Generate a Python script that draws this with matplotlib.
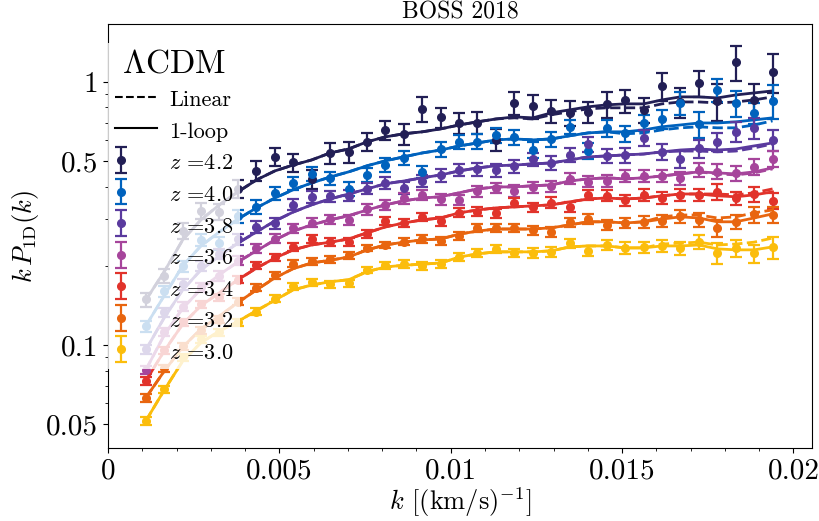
import matplotlib
matplotlib.use("Agg")
import numpy as np
import matplotlib.pyplot as plt
from matplotlib.lines import Line2D
from matplotlib.legend_handler import HandlerErrorbar
from matplotlib.ticker import NullFormatter, MultipleLocator, LogLocator

plt.rcParams['font.family'] = 'serif'
plt.rcParams['font.serif'] = ['cmr10']
plt.rcParams['mathtext.fontset'] = 'cm'
plt.rcParams['axes.unicode_minus'] = False
plt.rcParams['axes.formatter.use_mathtext'] = True

# wavenumbers of the BOSS 2018 bins [s/km]
k = [0.00110, 0.00164, 0.00218, 0.00271, 0.00325, 0.00379, 0.00433, 0.00487,
     0.00540, 0.00594, 0.00648, 0.00702, 0.00756, 0.00809, 0.00863, 0.00917,
     0.00971, 0.01025, 0.01078, 0.01132, 0.01186, 0.01240, 0.01294, 0.01347,
     0.01401, 0.01455, 0.01509, 0.01563, 0.01616, 0.01670, 0.01724, 0.01778,
     0.01832, 0.01885, 0.01939]

redshifts = ['4.2', '4.0', '3.8', '3.6', '3.4', '3.2', '3.0']
colors = ['#221f55', '#0062bd', '#5a3a9e', '#a6459b', '#e1332b', '#e8650f', '#fbbd0c']

# measured k P(k) and relative errors
data_42 = [0.149, 0.183, 0.271, 0.324, 0.320, 0.393, 0.460, 0.519, 0.494, 0.427, 0.538, 0.540,
           0.593, 0.655, 0.634, 0.792, 0.733, 0.698, 0.700, 0.604, 0.829, 0.809, 0.773, 0.765,
           0.768, 0.822, 0.850, 0.783, 0.965, 0.841, 0.989, 0.847, 1.188, 0.852, 1.095]
data_40 = [0.118, 0.160, 0.199, 0.251, 0.244, 0.309, 0.335, 0.377, 0.412, 0.448, 0.430, 0.392,
           0.443, 0.483, 0.516, 0.456, 0.554, 0.593, 0.593, 0.628, 0.615, 0.551, 0.607, 0.675,
           0.548, 0.667, 0.638, 0.700, 0.721, 0.829, 0.692, 0.932, 0.829, 0.760, 0.847]
data_38 = [0.0965, 0.133, 0.170, 0.200, 0.222, 0.252, 0.281, 0.290, 0.342, 0.366, 0.368, 0.370,
           0.393, 0.413, 0.396, 0.421, 0.441, 0.463, 0.465, 0.462, 0.477, 0.508, 0.493, 0.527,
           0.579, 0.524, 0.527, 0.611, 0.543, 0.508, 0.559, 0.593, 0.647, 0.669, 0.602]
data_36 = [0.0803, 0.112, 0.140, 0.166, 0.183, 0.209, 0.233, 0.254, 0.278, 0.292, 0.301, 0.299,
           0.328, 0.341, 0.361, 0.372, 0.358, 0.357, 0.384, 0.396, 0.386, 0.398, 0.401, 0.429,
           0.418, 0.421, 0.439, 0.439, 0.439, 0.430, 0.463, 0.456, 0.450, 0.476, 0.509]
data_34 = [0.0730, 0.0957, 0.122, 0.143, 0.152, 0.177, 0.201, 0.216, 0.236, 0.253, 0.246, 0.246,
           0.264, 0.296, 0.290, 0.306, 0.296, 0.318, 0.321, 0.317, 0.348, 0.334, 0.348, 0.335,
           0.372, 0.370, 0.355, 0.372, 0.363, 0.372, 0.372, 0.383, 0.361, 0.375, 0.353]
data_32 = [0.0630, 0.0817, 0.0990, 0.114, 0.125, 0.146, 0.165, 0.184, 0.204, 0.208, 0.212, 0.219,
           0.234, 0.240, 0.247, 0.254, 0.248, 0.259, 0.278, 0.278, 0.278, 0.273, 0.269, 0.293,
           0.301, 0.286, 0.291, 0.294, 0.296, 0.309, 0.299, 0.278, 0.294, 0.314, 0.312]
data_30 = [0.0516, 0.0678, 0.0899, 0.105, 0.112, 0.122, 0.134, 0.150, 0.167, 0.173, 0.170, 0.172,
           0.193, 0.201, 0.203, 0.200, 0.203, 0.217, 0.224, 0.231, 0.224, 0.224, 0.226, 0.244,
           0.228, 0.240, 0.234, 0.235, 0.238, 0.233, 0.247, 0.224, 0.233, 0.223, 0.235]

relerr_42 = [0.06, 0.06, 0.07, 0.07, 0.07, 0.08, 0.09, 0.08, 0.08, 0.08, 0.09, 0.09, 0.08, 0.085,
             0.095, 0.11, 0.09, 0.09, 0.095, 0.095, 0.10, 0.105, 0.10, 0.11, 0.095, 0.115, 0.10,
             0.105, 0.12, 0.13, 0.115, 0.16, 0.15, 0.15, 0.17]
relerr_40 = [0.05, 0.05, 0.05, 0.05, 0.055, 0.055, 0.06, 0.06, 0.06, 0.06, 0.06, 0.06, 0.06, 0.06,
             0.06, 0.055, 0.065, 0.06, 0.065, 0.065, 0.065, 0.07, 0.065, 0.065, 0.07, 0.075, 0.07,
             0.07, 0.08, 0.10, 0.115, 0.10, 0.115, 0.09, 0.145]
relerr_38 = [0.04, 0.04, 0.045, 0.045, 0.045, 0.045, 0.05, 0.05, 0.05, 0.05, 0.05, 0.05, 0.05, 0.05,
             0.05, 0.05, 0.055, 0.055, 0.055, 0.055, 0.055, 0.055, 0.06, 0.06, 0.065, 0.06, 0.065,
             0.07, 0.07, 0.075, 0.08, 0.08, 0.085, 0.09, 0.09]
relerr_36 = [0.035, 0.035, 0.04, 0.04, 0.04, 0.04, 0.04, 0.04, 0.04, 0.04, 0.04, 0.04, 0.045, 0.045,
             0.045, 0.045, 0.045, 0.045, 0.045, 0.045, 0.05, 0.05, 0.05, 0.05, 0.05, 0.05, 0.055,
             0.055, 0.055, 0.06, 0.06, 0.065, 0.065, 0.07, 0.07]
relerr_34 = [0.035, 0.03, 0.03, 0.03, 0.03, 0.03, 0.03, 0.03, 0.035, 0.035, 0.035, 0.035, 0.035,
             0.035, 0.035, 0.035, 0.04, 0.04, 0.04, 0.04, 0.04, 0.04, 0.045, 0.045, 0.045, 0.045,
             0.05, 0.05, 0.055, 0.055, 0.055, 0.07, 0.06, 0.065, 0.07]
relerr_32 = [0.035, 0.03, 0.03, 0.03, 0.03, 0.03, 0.03, 0.03, 0.03, 0.03, 0.03, 0.03, 0.03, 0.03,
             0.03, 0.035, 0.035, 0.035, 0.035, 0.035, 0.035, 0.04, 0.04, 0.04, 0.045, 0.045, 0.045,
             0.05, 0.05, 0.055, 0.06, 0.075, 0.065, 0.07, 0.07]
relerr_30 = [0.035, 0.03, 0.03, 0.03, 0.03, 0.03, 0.03, 0.03, 0.03, 0.03, 0.03, 0.03, 0.03, 0.03,
             0.035, 0.035, 0.035, 0.035, 0.035, 0.035, 0.035, 0.04, 0.04, 0.04, 0.045, 0.045, 0.05,
             0.05, 0.055, 0.06, 0.06, 0.09, 0.075, 0.08, 0.095]

# 1-loop model
loop_42 = [0.148, 0.190, 0.251, 0.299, 0.341, 0.382, 0.424, 0.459, 0.483, 0.505, 0.537, 0.556,
           0.592, 0.618, 0.635, 0.646, 0.663, 0.686, 0.705, 0.723, 0.736, 0.730, 0.763, 0.783,
           0.804, 0.818, 0.825, 0.825, 0.854, 0.877, 0.877, 0.869, 0.892, 0.908, 0.924]
loop_40 = [0.118, 0.154, 0.200, 0.238, 0.269, 0.301, 0.332, 0.362, 0.389, 0.413, 0.435, 0.455,
           0.480, 0.501, 0.519, 0.537, 0.551, 0.571, 0.586, 0.602, 0.607, 0.602, 0.607, 0.624,
           0.640, 0.646, 0.646, 0.657, 0.675, 0.686, 0.698, 0.698, 0.705, 0.717, 0.730]
loop_38 = [0.0957, 0.127, 0.162, 0.193, 0.218, 0.244, 0.269, 0.296, 0.320, 0.341, 0.359, 0.375,
           0.392, 0.410, 0.420, 0.432, 0.443, 0.459, 0.471, 0.480, 0.483, 0.488, 0.492, 0.505,
           0.519, 0.523, 0.528, 0.532, 0.542, 0.551, 0.556, 0.551, 0.556, 0.571, 0.586]
loop_36 = [0.0803, 0.109, 0.138, 0.163, 0.185, 0.207, 0.228, 0.251, 0.271, 0.286, 0.299, 0.310,
           0.326, 0.341, 0.353, 0.362, 0.366, 0.379, 0.392, 0.399, 0.399, 0.403, 0.406, 0.420,
           0.428, 0.432, 0.428, 0.432, 0.439, 0.447, 0.455, 0.451, 0.447, 0.455, 0.471]
loop_34 = [0.0730, 0.0949, 0.120, 0.141, 0.158, 0.177, 0.196, 0.214, 0.230, 0.240, 0.246, 0.253,
           0.267, 0.281, 0.291, 0.299, 0.304, 0.318, 0.326, 0.332, 0.335, 0.338, 0.341, 0.350,
           0.359, 0.362, 0.359, 0.362, 0.369, 0.375, 0.375, 0.369, 0.366, 0.372, 0.382]
loop_32 = [0.0629, 0.0796, 0.0983, 0.115, 0.129, 0.145, 0.162, 0.180, 0.195, 0.205, 0.210, 0.216,
           0.230, 0.240, 0.246, 0.251, 0.253, 0.264, 0.271, 0.276, 0.276, 0.276, 0.279, 0.286,
           0.294, 0.294, 0.291, 0.294, 0.301, 0.307, 0.304, 0.294, 0.294, 0.304, 0.315]
loop_30 = [0.0514, 0.0674, 0.0869, 0.102, 0.113, 0.123, 0.135, 0.148, 0.162, 0.169, 0.174, 0.177,
           0.190, 0.198, 0.201, 0.203, 0.205, 0.216, 0.222, 0.226, 0.226, 0.226, 0.228, 0.236,
           0.238, 0.238, 0.234, 0.234, 0.238, 0.238, 0.240, 0.232, 0.230, 0.230, 0.236]

# linear model
lin_42 = [0.148, 0.190, 0.251, 0.299, 0.341, 0.382, 0.424, 0.459, 0.483, 0.505, 0.537, 0.556,
          0.592, 0.618, 0.635, 0.646, 0.663, 0.686, 0.705, 0.723, 0.730, 0.723, 0.750, 0.770,
          0.790, 0.797, 0.797, 0.797, 0.825, 0.839, 0.839, 0.832, 0.839, 0.854, 0.877]
lin_40 = [0.118, 0.154, 0.200, 0.238, 0.269, 0.301, 0.332, 0.362, 0.389, 0.413, 0.435, 0.455,
          0.480, 0.501, 0.519, 0.537, 0.551, 0.571, 0.586, 0.602, 0.607, 0.602, 0.607, 0.624,
          0.640, 0.646, 0.635, 0.640, 0.657, 0.669, 0.675, 0.669, 0.669, 0.686, 0.711]
lin_38 = [0.0957, 0.127, 0.162, 0.193, 0.218, 0.244, 0.269, 0.296, 0.320, 0.341, 0.359, 0.375,
          0.392, 0.410, 0.420, 0.432, 0.443, 0.459, 0.471, 0.480, 0.483, 0.488, 0.492, 0.505,
          0.519, 0.523, 0.528, 0.532, 0.542, 0.546, 0.546, 0.542, 0.546, 0.561, 0.581]
lin_36 = [0.0803, 0.109, 0.138, 0.163, 0.185, 0.207, 0.228, 0.251, 0.271, 0.286, 0.299, 0.310,
          0.326, 0.341, 0.353, 0.362, 0.366, 0.379, 0.392, 0.399, 0.399, 0.403, 0.406, 0.420,
          0.428, 0.432, 0.428, 0.432, 0.439, 0.447, 0.455, 0.447, 0.443, 0.451, 0.467]
lin_34 = [0.0730, 0.0949, 0.120, 0.141, 0.158, 0.177, 0.196, 0.214, 0.230, 0.240, 0.246, 0.253,
          0.267, 0.281, 0.291, 0.299, 0.304, 0.318, 0.326, 0.332, 0.335, 0.338, 0.341, 0.350,
          0.359, 0.362, 0.359, 0.362, 0.369, 0.375, 0.375, 0.375, 0.372, 0.379, 0.392]
lin_32 = [0.0629, 0.0796, 0.0983, 0.115, 0.129, 0.145, 0.162, 0.180, 0.195, 0.205, 0.210, 0.216,
          0.230, 0.240, 0.246, 0.251, 0.253, 0.264, 0.271, 0.276, 0.276, 0.276, 0.279, 0.286,
          0.294, 0.294, 0.291, 0.294, 0.307, 0.312, 0.312, 0.304, 0.307, 0.318, 0.326]
lin_30 = [0.0514, 0.0674, 0.0869, 0.102, 0.113, 0.123, 0.135, 0.148, 0.162, 0.169, 0.174, 0.177,
          0.190, 0.198, 0.201, 0.203, 0.205, 0.216, 0.222, 0.226, 0.226, 0.226, 0.228, 0.236,
          0.238, 0.238, 0.234, 0.234, 0.242, 0.244, 0.246, 0.240, 0.242, 0.246, 0.255]

series = [
    (data_42, relerr_42, loop_42, lin_42),
    (data_40, relerr_40, loop_40, lin_40),
    (data_38, relerr_38, loop_38, lin_38),
    (data_36, relerr_36, loop_36, lin_36),
    (data_34, relerr_34, loop_34, lin_34),
    (data_32, relerr_32, loop_32, lin_32),
    (data_30, relerr_30, loop_30, lin_30),
]


class LeftErrorbar(HandlerErrorbar):
    """Errorbar legend handle drawn near the left end of the handle box."""
    def get_xdata(self, legend, xdescent, ydescent, width, height, fontsize):
        xdata, _ = super().get_xdata(legend, xdescent, ydescent, width, height, fontsize)
        return xdata, np.array([-xdescent + 0.14 * width])


fig = plt.figure(figsize=(8.2, 5.21), dpi=100)
ax = fig.add_axes([0.1317, 0.140, 0.8585, 0.814])

handles = [Line2D([], [], color='k', ls='--', lw=1.5),
           Line2D([], [], color='k', ls='-', lw=1.5)]
labels = ['Linear', '1-loop']

for (d, re, loop, lin), z, c in zip(series, redshifts, colors):
    d = np.array(d)
    ax.plot(k, lin, ls='--', color=c, lw=2)
    ax.plot(k, loop, ls='-', color=c, lw=2)
    eb = ax.errorbar(k, d, yerr=d * np.array(re), fmt='o', color=c, ms=5.5,
                     elinewidth=1.6, capsize=4, capthick=1.6)
    handles.append(eb)
    labels.append(r'$z$ =' + z)

ax.set_yscale('log')
ax.set_xlim(0, 0.02054)
ax.set_ylim(0.0406, 1.66)

ax.set_xticks([0, 0.005, 0.01, 0.015, 0.02])
ax.set_xticklabels(['0', '0.005', '0.01', '0.015', '0.02'])
ax.xaxis.set_minor_locator(MultipleLocator(0.001))
ax.set_yticks([0.05, 0.1, 0.5, 1])
ax.set_yticklabels(['0.05', '0.1', '0.5', '1'])
ax.yaxis.set_minor_locator(LogLocator(base=10, subs=np.arange(2, 10)))
ax.yaxis.set_minor_formatter(NullFormatter())
ax.tick_params(axis='both', which='major', labelsize=21)

ax.set_xlabel(r'$k$ $[(\mathrm{km/s})^{-1}]$', fontsize=19, labelpad=1)
ax.set_ylabel(r'$k\,P_{\rm 1D}(k)$', fontsize=19)
ax.set_title('BOSS 2018', fontsize=17, pad=4)

err_handler = LeftErrorbar(numpoints=1, yerr_size=0.58)
leg = ax.legend(handles, labels, title=r'$\Lambda$CDM', title_fontsize=24, fontsize=16,
                loc='upper left', bbox_to_anchor=(0.0, 0.955), borderaxespad=0,
                framealpha=0.8, edgecolor='none', fancybox=False, borderpad=0.3,
                handlelength=1.9, handleheight=1.2, handletextpad=0.55,
                labelspacing=0.39,
                handler_map={h: err_handler for h in handles[2:]})

fig.savefig('out.png', dpi=100)
